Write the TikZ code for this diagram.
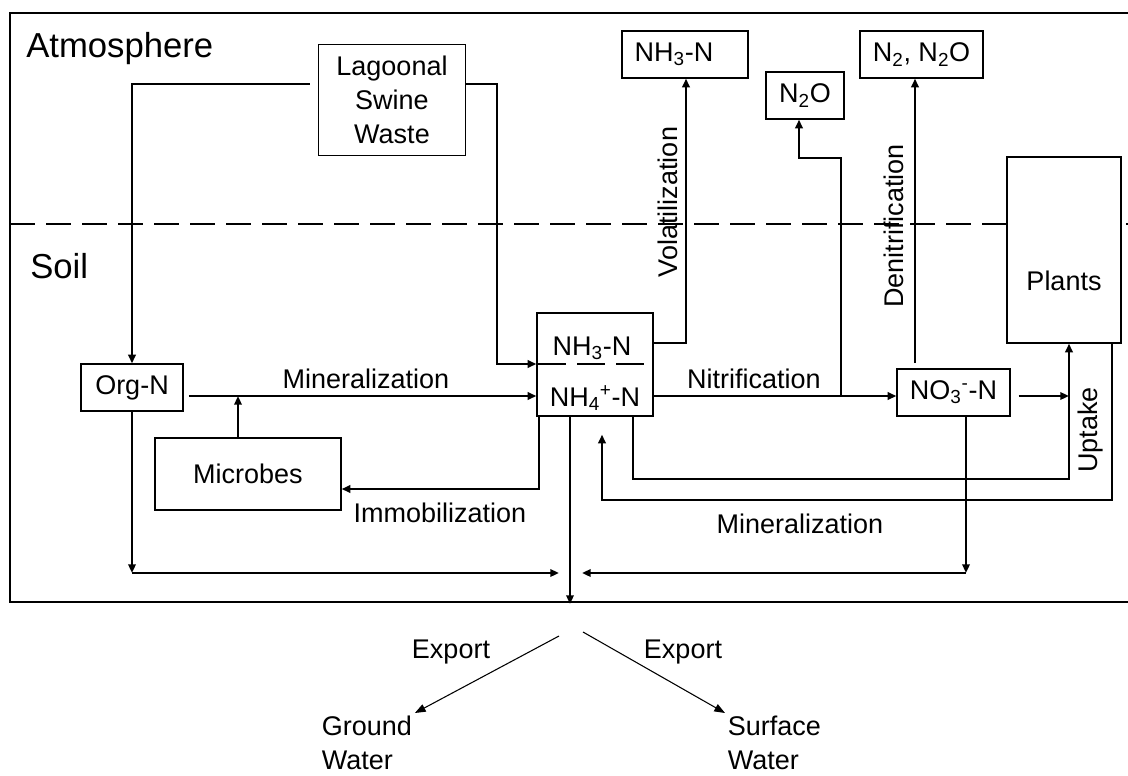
\documentclass[tikz,border=0pt]{standalone}
\usepackage{fontspec}
\setmainfont{Liberation Sans}
\usetikzlibrary{arrows.meta}

\begin{document}
\begin{tikzpicture}[x=0.75pt,y=-0.75pt,font=\fontsize{20.25}{25.5}\selectfont,
  box/.style={draw=ink, line width=0.9pt, fill=white, inner sep=0pt, align=center},
  arr/.style={draw=ink, line width=1.9pt, -{Triangle[length=6.5pt,width=5.5pt]}},
  thinarr/.style={draw=ink, line width=0.8pt, -{Triangle[length=8pt,width=6pt]}},
  lbl/.style={text=ink, inner sep=0pt}]
  \definecolor{ink}{RGB}{0,0,0}
  \useasboundingbox (0,0) rectangle (1128,775);

  \draw[ink, line width=2.2pt] (10,13) rectangle (1145,602);
  \node[lbl, anchor=base west, font=\fontsize{26}{30}\selectfont] (atm) at (26,57) {Atmosphere};
  \node[lbl, anchor=base west, font=\fontsize{26}{30}\selectfont] (soil) at (30,278) {Soil};

  \node[lbl, rotate=90] (volat) at (668,202) {Volatilization};
  \node[lbl, rotate=90] (denit) at (894,226) {Denitrification};
  \draw[ink, line width=1.9pt, dash pattern=on 18.75pt off 8.25pt] (10,224) -- (1145,224);

  \node[box, minimum width=110.25pt, minimum height=83.25pt] (lsw) at (392,100) {Lagoonal\\Swine\\Waste};
  \node[box, minimum width=94.5pt, minimum height=35.25pt] (nh3a) at (685,54.5) {};
  \node[lbl] at (674,54.5) {NH\textsubscript{3}-N};
  \node[box, minimum width=58.5pt, minimum height=35.25pt] (n2o) at (805,95.5) {N\textsubscript{2}O};
  \node[box, minimum width=92.25pt, minimum height=35.25pt] (n2a) at (921.5,54.5) {N\textsubscript{2}, N\textsubscript{2}O};
  \node[box, minimum width=85.5pt, minimum height=139.5pt] (plants) at (1064,250) {};
  \node[lbl] at (1064,281) {Plants};
  \node[box, minimum width=76.5pt, minimum height=35.25pt] (orgn) at (132,387.5) {Org-N};
  \node[box, minimum width=139.5pt, minimum height=54pt] (microbes) at (248,474) {Microbes};
  \node[box, minimum width=87pt, minimum height=77.25pt] (nh) at (595,364.5) {};
  \node[lbl] (nh3b) at (592,348) {NH\textsubscript{3}-N};
  \node[lbl] (nh4) at (595,398) {NH\textsubscript{4}\textsuperscript{+}-N};
  \draw[ink, line width=1.9pt, dash pattern=on 21pt off 8.25pt] (nh.west |- 0,364) ++(2,0) -- (645,364);
  \node[box, minimum width=84.75pt, minimum height=35.25pt] (no3) at (953.5,392.5) {NO\textsubscript{3}\textsuperscript{-}-N};

  \coordinate (nitj) at (841,396);
  \coordinate (minj) at (238,396);
  \coordinate (upj) at (1069,479);
  \coordinate (minr) at (602,500);
  \coordinate (bl) at (132,573);
  \coordinate (br) at (966,573);
  \coordinate (exp) at (570,604);
  \coordinate (expl) at (559,636);
  \coordinate (expr) at (583,632);

  \draw[arr, shorten <=6pt] (lsw.west |- 0,84) -| (orgn.north);
  \draw[arr] (lsw.east |- 0,84) -| (497,364) -- (nh.west |- 0,364);
  \draw[arr, shorten <=4pt] (orgn.east |- 0,396) -- (nh.west |- 0,396);
  \draw[arr] (microbes.north -| minj) -- (minj);
  \draw[arr] (nh.south -| 539,0) |- (microbes.east |- 0,489);
  \draw[arr] (nh.east |- 0,343) -| (nh3a.south -| 686,0);
  \draw[arr] (nh.east |- nitj) -- (no3.west |- nitj);
  \draw[arr] (nitj) |- (799,158) -- (n2o.south -| 799,0);
  \draw[arr, shorten <=4pt] (no3.north -| 915,0) -- (n2a.south -| 915,0);
  \draw[arr, shorten <=6pt] (no3.east |- nitj) -- (upj |- nitj);
  \draw[arr] (nh.south -| 633,0) |- (upj) -- (plants.south -| upj);
  \draw[arr, shorten >=13.5pt] (plants.south -| 1112,0) |- (minr) -- (nh.south -| minr);
  \draw[arr] (orgn.south -| bl) -- (bl);
  \draw[arr] (bl) -- ([xshift=-8.25pt]exp |- bl);
  \draw[arr] (no3.south -| br) -- (br);
  \draw[arr] (br) -- ([xshift=9pt]exp |- br);
  \draw[arr] (nh.south -| exp) -- (exp);

  \node[lbl] at (366,379) {Mineralization};
  \node[lbl] at (754,379) {Nitrification};
  \node[lbl] at (440,513) {Immobilization};
  \node[lbl] at (800,524) {Mineralization};
  \node[lbl, rotate=90] at (1091,430) {Uptake};

  \node[lbl, anchor=base] at (451,658) {Export};
  \node[lbl, anchor=base] at (683,658) {Export};
  \node[lbl, align=left, anchor=north west, inner sep=2pt] (gw) at (319,713) {Ground\\Water};
  \node[lbl, align=left, anchor=north west, inner sep=2pt] (sw) at (725,713) {Surface\\Water};
  \draw[thinarr] (expl) -- (gw.north east);
  \draw[thinarr] (expr) -- (sw.north west);
\end{tikzpicture}
\end{document}
